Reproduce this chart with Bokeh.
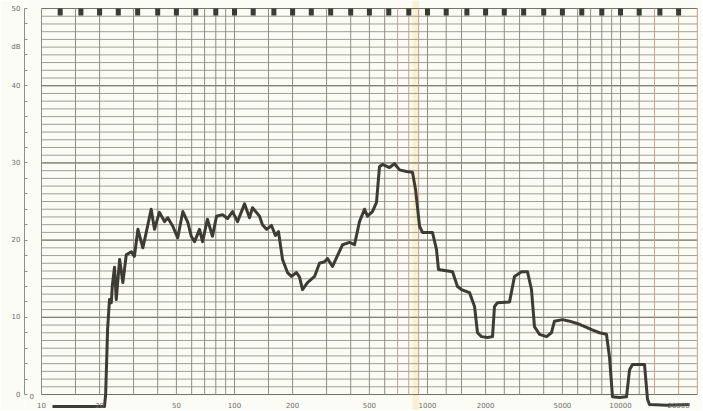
from bokeh.plotting import figure
from bokeh.models import FixedTicker, Range1d
from bokeh.embed import file_html
from bokeh.resources import INLINE
from bokeh.core.properties import value

# ---- measured response (Hz, dB) ----
freq_hz = [11.4, 21.2, 21.5, 22.0, 22.5, 23.0, 23.3, 23.9, 24.4, 25.4, 26.4, 27.5, 29.2, 30.3,
           31.6, 33.5, 34.9, 37.0, 38.5, 40.8, 43.4, 45.1, 47.9, 50.8, 54.0, 57.3, 59.7, 62.1,
           65.9, 68.3, 72.4, 76.9, 80.7, 86.7, 92.0, 97.7, 103.7, 112.7, 119.6, 124.0, 134.8,
           139.6, 146.5, 155.5, 163.0, 169.0, 177.4, 188.2, 197.4, 209.5, 217.3, 225.1, 238.9,
           259.9, 275.6, 292.6, 303.3, 322.1, 337.4, 362.9, 394.5, 418.7, 444.3, 471.6, 488.7,
           518.7, 544.2, 563.9, 584.6, 635.6, 674.8, 716.1, 778.4, 835.8, 866.7, 909.4, 942.2,
           1061, 1113, 1140, 1348, 1430, 1500, 1651, 1753, 1816, 1905, 2046, 2172, 2224, 2306,
           2661, 2824, 3070, 3297, 3458, 3583, 3802, 4139, 4386, 4548, 5003, 5442, 6131, 6671,
           7080, 7783, 8457, 8767, 9091, 9886, 10743, 11140, 11543, 13314, 13803, 14130, 17300,
           22780]
level_db = [-1.55, -1.55, 0.0, 8.4, 12.3, 11.9, 14.2, 16.5, 12.3, 17.5, 14.5, 18.1, 18.5, 17.9,
            21.4, 19.0, 21.0, 24.0, 21.4, 23.6, 22.4, 22.9, 21.8, 20.3, 23.7, 22.3, 20.5, 19.8,
            21.4, 19.8, 22.7, 20.5, 23.1, 23.3, 22.8, 23.7, 22.4, 24.7, 22.9, 24.2, 23.1,
            22.0, 21.4, 21.9, 20.6, 21.1, 17.5, 15.8, 15.3, 15.8, 15.2, 13.6, 14.5,
            15.3, 17.0, 17.2, 17.6, 16.6, 17.7, 19.4, 19.7, 19.4, 22.4, 24.0, 23.1,
            23.7, 24.9, 29.5, 29.8, 29.4, 29.9, 29.1, 28.9, 28.8, 26.6, 21.8, 21.0,
            21.0, 18.8, 16.2, 15.9, 14.0, 13.6, 13.2, 11.4, 8.0, 7.5, 7.4, 7.5, 11.4, 11.9,
            12.0, 15.3, 15.9, 15.9, 13.6, 8.8, 7.8, 7.5, 8.0, 9.5, 9.7, 9.5, 9.1, 8.7,
            8.4, 8.0, 7.8, 4.9, -0.3, -0.4, -0.3, 3.2, 3.9, 3.9, -0.6, -1.3, -1.4,
            -1.3]

# ---- chart paper ----
grid_freqs = [10, 15, 20, 30, 40, 50, 60, 70, 80, 90, 100, 150, 200, 300, 400, 500, 600,
              1000, 1250, 1500, 2000, 2500, 3000, 4000, 5000, 6000, 7000, 8000, 9000,
              10000, 12500]
pink_freqs = [700, 800, 900]
warm_freqs = [15000, 20000, 25000]
grid_db = list(range(0, 51))
major_db = [0, 10, 20, 30, 40, 50]
marker_freqs = [12.5, 16, 20, 25, 31.5, 40, 50, 63, 80, 100, 125, 160, 200, 250, 315, 400,
                500, 630, 800, 1000, 1250, 1600, 2000, 2500, 3150, 4000, 5000, 6300, 8000,
                10000, 12500, 16000, 20000]
x_tick_freqs = [10, 20, 50, 100, 200, 500, 1000, 2000, 5000, 10000, 20000]
x_tick_labels = ["10", "20", "50", "100", "200", "500", "1000", "2000", "5000", "10000", "20000"]
y_tick_vals = [0, 10, 20, 30, 40, 45, 50]
y_tick_labels = ["0", "10", "20", "30", "40", "dB", "50"]

PAPER = "#fcfcf7"
GRID = "#8e8e80"
LABEL = "#6c6c66"
Y_TOP = 51.04
Y_BOT = -2.07

p = figure(width=702, height=410, x_axis_type="log",
           x_range=Range1d(8.165, 26600), y_range=Range1d(Y_BOT, Y_TOP),
           x_axis_location=None, y_axis_location="left",
           output_backend="svg", toolbar_location=None,
           min_border_left=24, min_border_right=0, min_border_top=0, min_border_bottom=0)
p.outline_line_color = None
p.background_fill_color = PAPER
p.border_fill_color = PAPER
p.grid.visible = False

ax = p.yaxis[0]
ax.ticker = FixedTicker(ticks=y_tick_vals, minor_ticks=list(range(0, 51, 2)))
ax.major_label_overrides = {v: l for v, l in zip(y_tick_vals, y_tick_labels)}
ax.bounds = (0, 50)
ax.major_tick_in = 0
ax.major_tick_out = 0
ax.minor_tick_in = 3
ax.minor_tick_out = 0
ax.minor_tick_line_color = "#8f8f85"
ax.axis_line_color = "#8f8f85"
ax.major_label_standoff = 4
ax.major_label_text_font_size = "7px"
ax.major_label_text_color = LABEL
ax.major_label_text_font = "DejaVu Sans"

# yellowish band in the scanned paper
p.quad(left=[835], right=[905], bottom=[Y_BOT], top=[Y_TOP],
       fill_color="#f8efc6", fill_alpha=0.8, line_color=None)

# horizontal grid
p.segment(x0=[10] * len(grid_db), y0=grid_db, x1=[25000] * len(grid_db), y1=grid_db,
          line_color=GRID, line_width=1, line_alpha=0.85)
p.segment(x0=[10] * len(major_db), y0=major_db, x1=[25000] * len(major_db), y1=major_db,
          line_color="#747466", line_width=1)
# vertical grid
p.segment(x0=grid_freqs, y0=[0] * len(grid_freqs), x1=grid_freqs, y1=[50] * len(grid_freqs),
          line_color=GRID, line_width=1)
p.segment(x0=pink_freqs, y0=[0] * len(pink_freqs), x1=pink_freqs, y1=[50] * len(pink_freqs),
          line_color="#c29d96", line_width=1)
p.segment(x0=warm_freqs, y0=[0] * len(warm_freqs), x1=warm_freqs, y1=[50] * len(warm_freqs),
          line_color="#c6a284", line_width=1)

# chart recorder marks along the top
p.rect(x=marker_freqs, y=[49.55] * len(marker_freqs), width=5, height=7,
       width_units="screen", height_units="screen",
       fill_color="#3a3a36", line_color=None)

# response curve
p.line(freq_hz, level_db, line_color="#3c3c35", line_width=3, line_join="round")

# frequency labels
p.text(x=x_tick_freqs, y=[-1.35] * len(x_tick_freqs), text=x_tick_labels,
       text_align="center", text_baseline="middle", text_font_size="7px",
       text_color=LABEL, text_font=value("DejaVu Sans"))
p.text(x=[8.9], y=[-0.15], text=["0"], text_align="center", text_baseline="middle",
       text_font_size="7px", text_color=LABEL, text_font=value("DejaVu Sans"))

open("out.html", "w").write(file_html(p, INLINE))
